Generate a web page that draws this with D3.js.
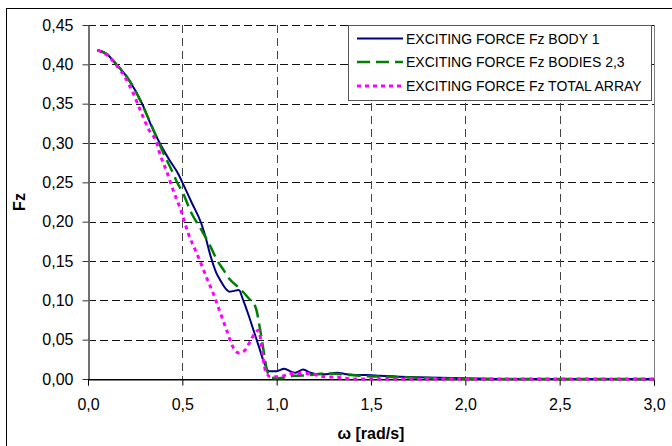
<!DOCTYPE html>
<html>
<head>
<meta charset="utf-8">
<script src="https://cdn.jsdelivr.net/npm/d3@7"></script>
<style>
	body { margin: 0; background: #fff; }
	svg { display: block; }
</style>
</head>
<body>
<div id="chart"></div>
<script>
'use strict';

// series data: omega [rad/s] and Fz
var body1Omega = [0.05, 0.10, 0.15, 0.20, 0.25, 0.30, 0.33, 0.38, 0.43, 0.48, 0.50, 0.55, 0.60, 0.62, 0.65, 0.68, 0.70, 0.75, 0.80, 0.82, 0.85, 0.88, 0.91, 0.93, 0.96, 1.00, 1.04, 1.08, 1.10, 1.14, 1.18, 1.22, 1.26, 1.32, 1.37, 1.42, 1.48, 1.55, 1.65, 1.80, 2.00, 2.20, 3.00];
var body1Fz    = [0.418, 0.413, 0.400, 0.386, 0.367, 0.343, 0.325, 0.300, 0.279, 0.260, 0.250, 0.224, 0.198, 0.183, 0.156, 0.135, 0.126, 0.111, 0.113, 0.102, 0.082, 0.060, 0.038, 0.023, 0.010, 0.010, 0.013, 0.009, 0.008, 0.012, 0.008, 0.006, 0.006, 0.008, 0.006, 0.005, 0.005, 0.004, 0.003, 0.002, 0.001, 0.000, 0.000];

var bodies23Omega = [0.05, 0.10, 0.15, 0.20, 0.25, 0.30, 0.35, 0.40, 0.45, 0.47, 0.50, 0.55, 0.60, 0.65, 0.68, 0.72, 0.75, 0.80, 0.85, 0.89, 0.91, 0.93, 0.95, 0.97, 1.00, 1.04, 1.09, 1.18, 1.26, 1.35, 1.44, 1.55, 1.70, 2.00, 3.00];
var bodies23Fz    = [0.418, 0.413, 0.400, 0.386, 0.367, 0.342, 0.315, 0.287, 0.262, 0.251, 0.238, 0.210, 0.190, 0.168, 0.153, 0.138, 0.127, 0.116, 0.103, 0.090, 0.066, 0.037, 0.010, 0.002, 0.001, 0.002, 0.004, 0.005, 0.007, 0.006, 0.004, 0.003, 0.002, 0.000, 0.000];

var totalOmega = [0.05, 0.10, 0.15, 0.20, 0.24, 0.28, 0.32, 0.364, 0.38, 0.42, 0.45, 0.49, 0.53, 0.585, 0.63, 0.665, 0.70, 0.735, 0.77, 0.80, 0.83, 0.86, 0.89, 0.905, 0.92, 0.94, 0.965, 1.00, 1.02, 1.07, 1.16, 1.25, 1.33, 1.40, 3.00];
var totalFz    = [0.418, 0.412, 0.399, 0.382, 0.363, 0.340, 0.318, 0.300, 0.287, 0.262, 0.241, 0.216, 0.186, 0.155, 0.128, 0.108, 0.085, 0.062, 0.040, 0.033, 0.036, 0.048, 0.060, 0.062, 0.042, 0.011, 0.003, 0.003, 0.003, 0.007, 0.007, 0.003, 0.002, 0.000, 0.000];

var seriesNames = ["EXCITING FORCE Fz BODY 1", "EXCITING FORCE Fz BODIES 2,3", "EXCITING FORCE Fz TOTAL ARRAY"];

var xTicks = [0, 0.5, 1.0, 1.5, 2.0, 2.5, 3.0];
var yTicks = [0, 0.05, 0.10, 0.15, 0.20, 0.25, 0.30, 0.35, 0.40, 0.45];

var width = 672;
var height = 446;
var plot = { left: 88, top: 25, right: 654, bottom: 379 };

var commaFormat = function(digits) {
	return function(v) { return v.toFixed(digits).replace(".", ","); };
};

var svg = d3.select("#chart").append("svg")
	.attr("width", width)
	.attr("height", height)
	.attr("font-family", "Liberation Sans, Arial, sans-serif");

// outer chart border (right and bottom run off the picture)
svg.append("rect")
	.attr("x", 6.5).attr("y", 8.5)
	.attr("width", width + 10).attr("height", height + 10)
	.attr("fill", "#fff")
	.attr("stroke", "#000")
	.attr("stroke-width", 1);

var x = d3.scaleLinear().domain([0, 3]).range([plot.left, plot.right]);
var y = d3.scaleLinear().domain([0, 0.45]).range([plot.bottom, plot.top]);

var crisp = function(v) { return Math.round(v) + 0.5; };

// grid lines
svg.append("g").selectAll("line")
	.data(yTicks.filter(function(d) { return d > 0; }))
	.enter().append("line")
	.attr("x1", plot.left).attr("x2", plot.right)
	.attr("y1", function(d) { return crisp(y(d)); })
	.attr("y2", function(d) { return crisp(y(d)); })
	.attr("stroke", "#111")
	.attr("stroke-dasharray", "8,4");

svg.append("g").selectAll("line")
	.data(xTicks.filter(function(d) { return d > 0 && d < 3; }))
	.enter().append("line")
	.attr("x1", function(d) { return crisp(x(d)); })
	.attr("x2", function(d) { return crisp(x(d)); })
	.attr("y1", plot.top).attr("y2", plot.bottom)
	.attr("stroke", "#444")
	.attr("stroke-dasharray", "8,5");

// right edge of plot area
svg.append("line")
	.attr("x1", crisp(plot.right)).attr("x2", crisp(plot.right))
	.attr("y1", plot.top).attr("y2", plot.bottom)
	.attr("stroke", "#808080");

// axes
var xAxis = svg.append("g")
	.attr("transform", "translate(0," + crisp(plot.bottom) + ")")
	.call(d3.axisBottom(x).tickValues(xTicks).tickFormat(commaFormat(1)).tickSize(6).tickPadding(13));
xAxis.select(".domain").attr("stroke", "#000");
xAxis.selectAll(".tick line").attr("stroke", "#000");
xAxis.selectAll("text")
	.attr("font-size", "16px")
	.attr("font-family", "Liberation Sans, Arial, sans-serif")
	.attr("fill", "#000");

var yAxis = svg.append("g")
	.attr("transform", "translate(" + (plot.left + 0.5) + ",0)")
	.call(d3.axisLeft(y).tickValues(yTicks).tickFormat(commaFormat(2)).tickSize(6).tickSizeOuter(0).tickPadding(9));
yAxis.select(".domain").attr("stroke", "#707070").attr("stroke-width", 2);
yAxis.selectAll(".tick line").attr("stroke", "#333");
yAxis.selectAll("text")
	.attr("font-size", "16px")
	.attr("font-family", "Liberation Sans, Arial, sans-serif")
	.attr("fill", "#000");

// x axis line on top at zero
svg.append("line")
	.attr("x1", plot.left).attr("x2", plot.right)
	.attr("y1", crisp(plot.bottom)).attr("y2", crisp(plot.bottom))
	.attr("stroke", "#000");

// series
var line = d3.line()
	.x(function(d) { return x(d[0]); })
	.y(function(d) { return y(d[1]); })
	.curve(d3.curveMonotoneX);

var series = [
	{ omega: body1Omega, fz: body1Fz, color: "#000080", width: 2, dash: null },
	{ omega: bodies23Omega, fz: bodies23Fz, color: "#008000", width: 2.5, dash: "13,6" },
	{ omega: totalOmega, fz: totalFz, color: "#ff00ff", width: 3, dash: "4,4" }
];

series.forEach(function(s) {
	var pts = s.omega.map(function(o, i) { return [o, s.fz[i]]; });
	svg.append("path")
		.attr("d", line(pts))
		.attr("fill", "none")
		.attr("stroke", s.color)
		.attr("stroke-width", s.width)
		.attr("stroke-dasharray", s.dash);
});

// axis titles
svg.append("text")
	.attr("x", (plot.left + plot.right) / 2)
	.attr("y", 439)
	.attr("text-anchor", "middle")
	.attr("font-size", "16px")
	.attr("font-weight", "bold")
	.text("ω [rad/s]");

svg.append("text")
	.attr("transform", "translate(25," + ((plot.top + plot.bottom) / 2) + ") rotate(-90)")
	.attr("text-anchor", "middle")
	.attr("font-size", "16px")
	.attr("font-weight", "bold")
	.text("Fz");

// legend
var legend = svg.append("g");
legend.append("rect")
	.attr("x", 348.5).attr("y", 25.5)
	.attr("width", 303).attr("height", 75)
	.attr("fill", "#fff")
	.attr("stroke", "#555");

var legendRowY = [38.5, 62, 86];
series.forEach(function(s, i) {
	legend.append("line")
		.attr("x1", 357).attr("x2", 403)
		.attr("y1", legendRowY[i]).attr("y2", legendRowY[i])
		.attr("stroke", s.color)
		.attr("stroke-width", s.width)
		.attr("stroke-dasharray", s.dash);
	legend.append("text")
		.attr("x", 406)
		.attr("y", legendRowY[i] + 5)
		.attr("font-size", "14px")
		.attr("fill", "#000")
		.text(seriesNames[i]);
});
</script>
</body>
</html>
